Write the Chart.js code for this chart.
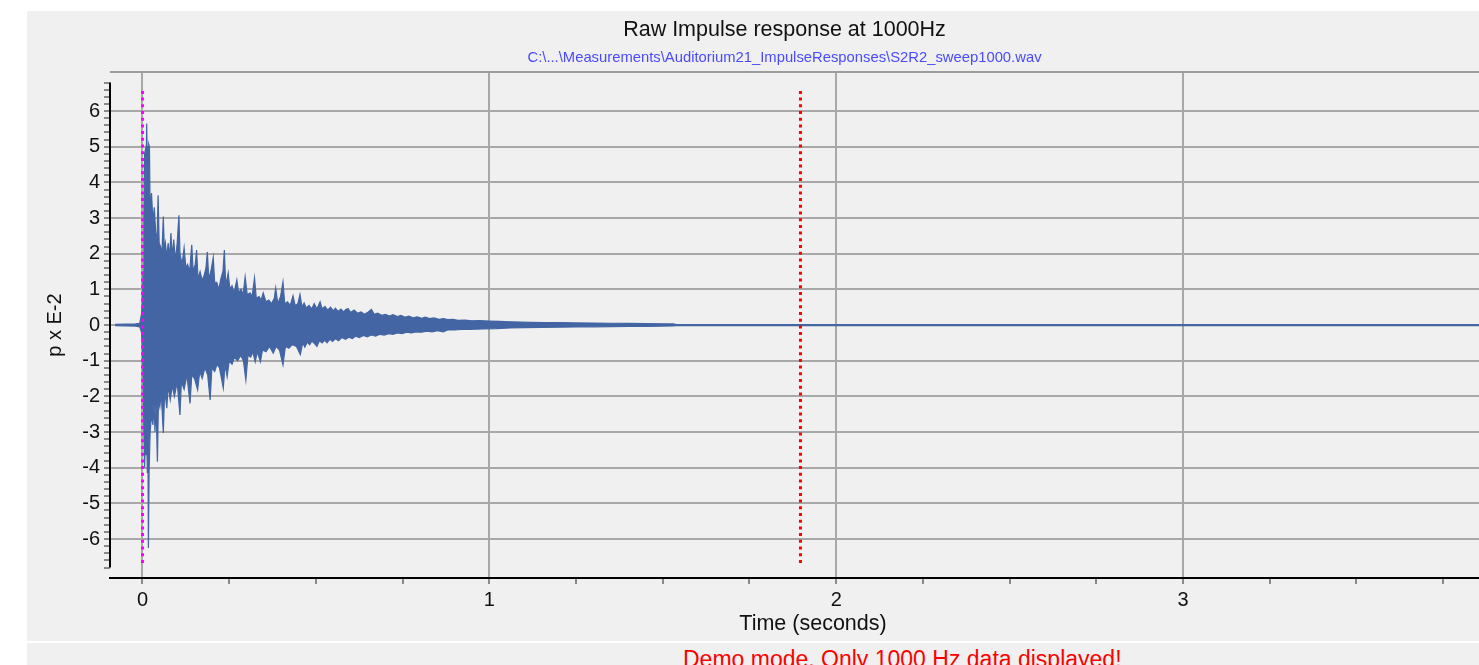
<!DOCTYPE html>
<html>
<head>
<meta charset="utf-8">
<title>Raw Impulse response at 1000Hz</title>
<script src="https://cdn.jsdelivr.net/npm/chart.js@4.4.1/dist/chart.umd.min.js"></script>
<style>
  body { margin: 0; background: #ffffff; overflow: hidden; width: 1479px; height: 665px; }
  #panel { position: absolute; left: 27px; top: 11px; width: 1515px; height: 630px; background: #f0f0f0; }
  #demo { position: absolute; left: 27px; top: 643px; width: 1515px; height: 40px; background: #f0f0f0; }
  #demo span { position: absolute; left: 656px; top: 3px; line-height: 23px; font: 23px 'Liberation Sans', Arial, sans-serif; color: #ff0000; white-space: nowrap; }
</style>
</head>
<body>
<div id="panel"><canvas id="chart"></canvas></div>
<div id="demo"><span>Demo mode. Only 1000 Hz data displayed!</span></div>
<script>
// Upper edge of the impulse response (peaks), time in seconds, p x E-2
const upperTimes = [
  -0.079, -0.02, -0.008, -0.003, 0.000, 0.002, 0.004, 0.006, 0.008, 0.010,
  0.012, 0.014, 0.016, 0.018, 0.020, 0.022, 0.026, 0.030, 0.034, 0.038,
  0.042, 0.045, 0.048, 0.052, 0.056, 0.060, 0.063, 0.066, 0.070, 0.074,
  0.078, 0.082, 0.085, 0.090, 0.095, 0.100, 0.105, 0.108, 0.114, 0.120,
  0.125, 0.130, 0.136, 0.142, 0.146, 0.152, 0.156, 0.160, 0.166, 0.172,
  0.178, 0.183, 0.187, 0.191, 0.197, 0.204, 0.208, 0.214, 0.220, 0.226,
  0.232, 0.236, 0.240, 0.247, 0.252, 0.258, 0.264, 0.272, 0.277, 0.284,
  0.290, 0.296, 0.302, 0.310, 0.316, 0.323, 0.328, 0.336, 0.342, 0.348,
  0.356, 0.364, 0.372, 0.380, 0.384, 0.390, 0.398, 0.405, 0.410, 0.418,
  0.426, 0.434, 0.440, 0.448, 0.454, 0.460, 0.466, 0.472, 0.480, 0.488,
  0.495, 0.503, 0.512, 0.518, 0.526, 0.534, 0.542, 0.550, 0.556, 0.564,
  0.572, 0.580, 0.587, 0.593, 0.600, 0.610, 0.620, 0.630, 0.640, 0.650,
  0.660, 0.668, 0.678, 0.690, 0.700, 0.712, 0.722, 0.735, 0.745, 0.758,
  0.768, 0.780, 0.792, 0.805, 0.815, 0.828, 0.840, 0.855, 0.868, 0.880,
  0.895, 0.910, 0.930, 0.950, 0.970, 1.000, 1.030, 1.060, 1.090, 1.120,
  1.160, 1.200, 1.250, 1.300, 1.350, 1.400, 1.450, 1.500, 1.530, 1.540,
  4.000
];
const upperValues = [
  0.02, 0.03, 0.05, 0.3, 0.6, 1.5, 3.0, 4.8, 4.9, 3.8,
  5.65, 4.5, 5.0, 5.07, 5.0, 3.2, 3.7, 2.9, 3.3, 2.6,
  2.4, 3.64, 2.3, 2.2, 2.0, 3.04, 2.1, 2.3, 1.9, 2.3,
  1.9, 2.58, 1.9, 2.4, 1.8, 2.3, 3.08, 2.0, 1.7, 2.16,
  1.6, 1.7, 1.5, 2.25, 1.5, 1.7, 2.1, 1.3, 1.5, 1.25,
  1.4, 1.6, 2.05, 1.3, 1.5, 1.9, 1.2, 1.2, 1.0, 1.3,
  1.5, 2.1, 1.1, 1.46, 1.0, 1.1, 0.9, 1.26, 0.9, 1.0,
  0.85, 1.35, 0.85, 0.9, 0.8, 1.32, 0.75, 0.8, 0.7, 0.9,
  0.65, 0.7, 0.6, 0.75, 1.04, 0.6, 0.8, 1.21, 0.6, 0.65,
  0.55, 0.82, 0.55, 0.6, 0.86, 0.5, 0.62, 0.48, 0.55, 0.45,
  0.6, 0.45, 0.65, 0.45, 0.52, 0.42, 0.5, 0.4, 0.47, 0.38,
  0.45, 0.37, 0.44, 0.46, 0.35, 0.42, 0.33, 0.37, 0.3, 0.36,
  0.44, 0.3, 0.33, 0.27, 0.3, 0.25, 0.29, 0.24, 0.27, 0.22,
  0.25, 0.2, 0.23, 0.19, 0.22, 0.18, 0.2, 0.16, 0.18, 0.15,
  0.16, 0.13, 0.14, 0.12, 0.125, 0.11, 0.1, 0.09, 0.085, 0.075,
  0.07, 0.07, 0.06, 0.055, 0.05, 0.045, 0.04, 0.035, 0.03, 0.015,
  0.015
];

// Lower edge of the impulse response
const lowerTimes = [
  -0.079, -0.02, -0.008, -0.003, 0.000, 0.002, 0.004, 0.006, 0.008, 0.010,
  0.012, 0.014, 0.016, 0.017, 0.019, 0.022, 0.026, 0.030, 0.033, 0.036,
  0.039, 0.043, 0.046, 0.050, 0.054, 0.060, 0.064, 0.070, 0.074, 0.080,
  0.086, 0.092, 0.100, 0.108, 0.112, 0.120, 0.128, 0.137, 0.142, 0.150,
  0.159, 0.165, 0.172, 0.180, 0.188, 0.195, 0.200, 0.208, 0.215, 0.222,
  0.233, 0.238, 0.244, 0.250, 0.258, 0.265, 0.274, 0.283, 0.291, 0.298,
  0.304, 0.312, 0.318, 0.325, 0.331, 0.340, 0.346, 0.356, 0.366, 0.377,
  0.385, 0.395, 0.405, 0.412, 0.422, 0.432, 0.444, 0.455, 0.462, 0.468,
  0.475, 0.482, 0.488, 0.496, 0.503, 0.510, 0.518, 0.525, 0.532, 0.540,
  0.548, 0.556, 0.565, 0.575, 0.585, 0.595, 0.605, 0.615, 0.625, 0.637,
  0.648, 0.660, 0.672, 0.685, 0.697, 0.710, 0.722, 0.735, 0.748, 0.762,
  0.775, 0.790, 0.805, 0.820, 0.835, 0.850, 0.867, 0.880, 0.900, 0.920,
  0.940, 0.980, 1.020, 1.060, 1.100, 1.150, 1.200, 1.250, 1.300, 1.350,
  1.400, 1.450, 1.500, 1.530, 1.540, 4.000
];
const lowerValues = [
  -0.02, -0.03, -0.05, -0.2, -0.6, -1.5, -3.0, -4.0, -3.3, -3.65,
  -3.0, -4.15, -4.0, -6.25, -4.1, -3.0, -2.5, -2.8, -2.2, -2.99,
  -2.2, -3.83, -2.1, -2.3, -1.9, -3.03, -1.8, -2.33, -1.7, -2.1,
  -1.7, -2.0, -1.6, -2.52, -1.6, -1.8, -1.4, -2.2, -1.4, -1.5,
  -1.82, -1.3, -1.5, -1.2, -1.4, -2.1, -1.2, -1.3, -1.1, -1.2,
  -1.77, -1.1, -1.45, -1.0, -1.1, -0.9, -1.0, -0.85, -1.0, -1.54,
  -0.85, -0.9, -0.75, -1.03, -0.75, -1.03, -0.7, -0.75, -0.6, -0.79,
  -0.6, -0.7, -1.12, -0.6, -0.65, -0.55, -0.6, -0.83, -0.5, -0.62,
  -0.48, -0.55, -0.45, -0.52, -0.6, -0.44, -0.5, -0.42, -0.5, -0.4,
  -0.46, -0.38, -0.44, -0.35, -0.4, -0.34, -0.38, -0.31, -0.35, -0.29,
  -0.33, -0.28, -0.31, -0.26, -0.28, -0.24, -0.26, -0.22, -0.24, -0.2,
  -0.22, -0.19, -0.2, -0.17, -0.19, -0.16, -0.19, -0.14, -0.14, -0.12,
  -0.125, -0.11, -0.1, -0.08, -0.07, -0.065, -0.06, -0.055, -0.05, -0.045,
  -0.04, -0.035, -0.03, -0.025, -0.015, -0.015
];

// Dotted cursor lines (start marker and end marker)
const markerTimes = [0, 1.897];
const markerTop = 6.65;
const markerBottom = -6.67;

// Labelled range of the y axis and extent of its black axis line
const yLabelLimit = 6;
const yAxisLineLimit = 6.8;

const blue = 'rgb(67, 101, 163)';
const gridGray = '#a8a8a8';
const tickGray = '#8a8a8a';
const clear = 'rgba(0,0,0,0)';
const fontFamily = "'Liberation Sans', Arial, sans-serif";

function toPoints(times, values) {
  return times.map((t, i) => ({x: t, y: values[i]}));
}

function isWhole(v) {
  return Math.abs(v - Math.round(v)) < 1e-9;
}

// Gray line along the top of the plot area, black y axis line
const frameLines = {
  id: 'frameLines',
  afterDraw(chart) {
    const {ctx, chartArea, scales} = chart;
    ctx.save();
    ctx.strokeStyle = '#9c9c9c';
    ctx.lineWidth = 2;
    ctx.beginPath();
    ctx.moveTo(chartArea.left, chartArea.top);
    ctx.lineTo(chartArea.right, chartArea.top);
    ctx.stroke();
    ctx.strokeStyle = '#000000';
    ctx.beginPath();
    ctx.moveTo(chartArea.left, scales.y.getPixelForValue(yAxisLineLimit));
    ctx.lineTo(chartArea.left, scales.y.getPixelForValue(-yAxisLineLimit));
    ctx.stroke();
    ctx.restore();
  }
};

const ctx = document.getElementById('chart');
new Chart(ctx, {
  type: 'line',
  data: {
    datasets: [
      {
        label: 'start',
        data: [{x: markerTimes[0], y: markerBottom}, {x: markerTimes[0], y: markerTop}],
        borderColor: '#ff00ff',
        borderWidth: 3,
        borderDash: [3, 3.7],
        pointRadius: 0,
        order: 0
      },
      {
        label: 'end',
        data: [{x: markerTimes[1], y: markerBottom}, {x: markerTimes[1], y: markerTop}],
        borderColor: '#ff0000',
        borderWidth: 3,
        borderDash: [3, 3.7],
        pointRadius: 0,
        order: 0
      },
      {
        label: 'upper',
        data: toPoints(upperTimes, upperValues),
        borderColor: blue,
        backgroundColor: blue,
        borderWidth: 1.2,
        pointRadius: 0,
        tension: 0,
        fill: 'origin',
        order: 1
      },
      {
        label: 'lower',
        data: toPoints(lowerTimes, lowerValues),
        borderColor: blue,
        backgroundColor: blue,
        borderWidth: 1.2,
        pointRadius: 0,
        tension: 0,
        fill: 'origin',
        order: 1
      }
    ]
  },
  options: {
    responsive: true,
    maintainAspectRatio: false,
    animation: false,
    events: [],
    layout: { padding: 0 },
    plugins: {
      legend: { display: false },
      tooltip: { enabled: false },
      title: {
        display: true,
        text: 'Raw Impulse response at 1000Hz',
        color: '#111111',
        font: { family: fontFamily, size: 21.5, weight: 'normal' },
        padding: { top: 6.1, bottom: 6.4 }
      },
      subtitle: {
        display: true,
        text: 'C:\\...\\Measurements\\Auditorium21_ImpulseResponses\\S2R2_sweep1000.wav',
        color: '#4a4aff',
        font: { family: fontFamily, size: 14.8 },
        padding: { top: 0, bottom: 5 }
      }
    },
    scales: {
      x: {
        type: 'linear',
        min: -0.0937,
        max: 3.96,
        afterFit: (scale) => { scale.height = 63; },
        ticks: {
          stepSize: 0.25,
          autoSkip: false,
          maxRotation: 0,
          includeBounds: false,
          maxTicksLimit: 1000,
          padding: 4,
          color: '#111111',
          font: { family: fontFamily, size: 20 },
          callback: (v) => isWhole(v) ? String(Math.round(v)) : ''
        },
        grid: {
          color: (c) => isWhole(c.tick.value) ? gridGray : clear,
          tickColor: tickGray,
          lineWidth: 2,
          tickLength: 6
        },
        border: { color: '#000000', width: 2 },
        title: {
          display: true,
          text: 'Time (seconds)',
          color: '#111111',
          font: { family: fontFamily, size: 21.5 },
          padding: { top: 0, bottom: 4.4 }
        }
      },
      y: {
        min: -7.093,
        max: 7.093,
        afterFit: (scale) => { scale.width = 83; },
        ticks: {
          stepSize: 0.2,
          autoSkip: false,
          includeBounds: false,
          maxTicksLimit: 1000,
          padding: 4,
          color: '#111111',
          font: { family: fontFamily, size: 20 },
          callback: (v) => (isWhole(v) && Math.abs(v) <= yLabelLimit) ? String(Math.round(v)) : ''
        },
        grid: {
          color: (c) => (isWhole(c.tick.value) && Math.abs(c.tick.value) <= yLabelLimit) ? gridGray : clear,
          tickColor: (c) => Math.abs(c.tick.value) <= yAxisLineLimit + 1e-9 ? tickGray : clear,
          lineWidth: 2,
          tickLength: 6
        },
        border: { display: false },
        title: {
          display: true,
          text: 'p x E-2',
          color: '#111111',
          font: { family: fontFamily, size: 20 },
          padding: { top: 16, bottom: 0 }
        }
      },
      // empty strip on the right so the plot ends short of the panel edge
      yRight: {
        position: 'right',
        min: 0,
        max: 1,
        afterFit: (scale) => { scale.width = 26; },
        ticks: { display: false },
        grid: { display: false, drawTicks: false },
        border: { display: false }
      }
    }
  },
  plugins: [frameLines]
});
</script>
</body>
</html>
